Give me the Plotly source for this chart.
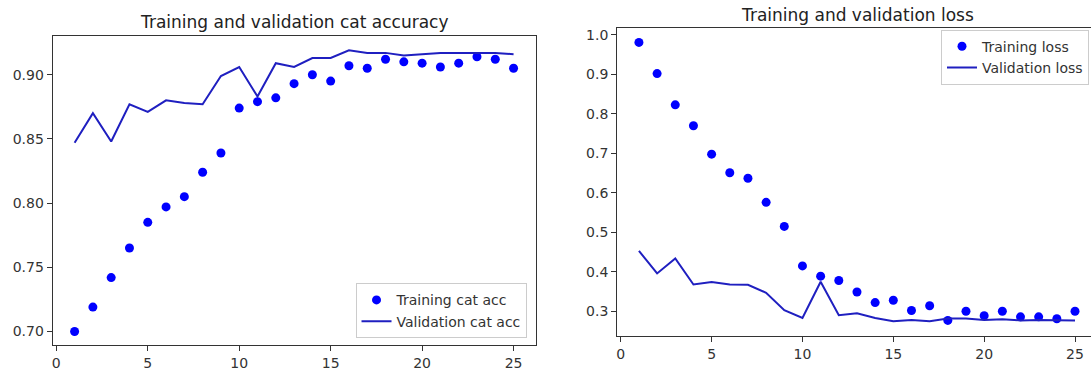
import plotly.graph_objects as go

epochs = list(range(1, 26))

train_acc = [0.700, 0.719, 0.742, 0.765, 0.785, 0.797, 0.805, 0.824, 0.839, 0.874,
             0.879, 0.882, 0.893, 0.900, 0.895, 0.907, 0.905, 0.912, 0.910, 0.909,
             0.906, 0.909, 0.914, 0.912, 0.905]
val_acc = [0.847, 0.870, 0.848, 0.877, 0.871, 0.880, 0.878, 0.877, 0.899, 0.906,
           0.883, 0.909, 0.906, 0.913, 0.913, 0.919, 0.917, 0.917, 0.915, 0.916,
           0.917, 0.917, 0.917, 0.917, 0.916]

train_loss = [0.981, 0.902, 0.823, 0.770, 0.698, 0.651, 0.637, 0.576, 0.515, 0.415,
              0.389, 0.378, 0.349, 0.322, 0.328, 0.302, 0.314, 0.277, 0.300, 0.289,
              0.300, 0.286, 0.286, 0.281, 0.300]
val_loss = [0.453, 0.396, 0.434, 0.368, 0.374, 0.368, 0.367, 0.347, 0.303, 0.283,
            0.375, 0.290, 0.295, 0.283, 0.275, 0.278, 0.275, 0.282, 0.282, 0.278,
            0.280, 0.277, 0.278, 0.278, 0.277]

x_ticks = [0, 5, 10, 15, 20, 25]
acc_ticks = [0.70, 0.75, 0.80, 0.85, 0.90]
loss_ticks = [0.3, 0.4, 0.5, 0.6, 0.7, 0.8, 0.9, 1.0]

W, H = 1091, 371
FONT = "DejaVu Sans"
DOT = "#0000ff"
LINE = "#1f1fc0"
AX = "#333333"

fig = go.Figure()
fig.add_trace(go.Scatter(x=epochs, y=train_acc, mode="markers", name="Training cat acc",
                         marker=dict(color=DOT, size=9), xaxis="x", yaxis="y", legend="legend"))
fig.add_trace(go.Scatter(x=epochs, y=val_acc, mode="lines", name="Validation cat acc",
                         line=dict(color=LINE, width=2), xaxis="x", yaxis="y", legend="legend"))
fig.add_trace(go.Scatter(x=epochs, y=train_loss, mode="markers", name="Training loss",
                         marker=dict(color=DOT, size=9), xaxis="x2", yaxis="y2", legend="legend2"))
fig.add_trace(go.Scatter(x=epochs, y=val_loss, mode="lines", name="Validation loss",
                         line=dict(color=LINE, width=2), xaxis="x2", yaxis="y2", legend="legend2"))

def px_x(p):
    return p / W

def px_y(p):
    return 1 - p / H

axis_common = dict(showgrid=False, zeroline=False, showline=True, linecolor=AX, linewidth=1,
                   ticks="outside", ticklen=5, tickcolor=AX, tickwidth=1,
                   tickfont=dict(family=FONT, size=14, color="#333333"))

fig.update_layout(
    width=W, height=H,
    margin=dict(l=0, r=0, t=0, b=0),
    paper_bgcolor="white", plot_bgcolor="white",
    showlegend=True,
    xaxis=dict(domain=[px_x(51.7), px_x(535)], range=[-0.2, 26.2], anchor="y",
               tickvals=x_ticks, mirror=True, **axis_common),
    yaxis=dict(domain=[px_y(346.7), px_y(34.3)], range=[0.6895, 0.9302], anchor="x",
               tickvals=acc_ticks, tickformat=".2f", mirror=True, **axis_common),
    xaxis2=dict(domain=[px_x(616.7), 1.0], range=[-0.2, 25.88], anchor="y2",
                tickvals=x_ticks, mirror=True, **axis_common),
    yaxis2=dict(domain=[px_y(337.7), px_y(26.7)], range=[0.2373, 1.0165], anchor="x2",
                tickvals=loss_ticks, tickformat=".1f", **axis_common),
    legend=dict(x=px_x(526), y=px_y(340), xanchor="right", yanchor="bottom",
                bgcolor="white", bordercolor="#cccccc", borderwidth=1,
                font=dict(family=FONT, size=14, color="#333333")),
    legend2=dict(x=px_x(1089), y=px_y(28), xanchor="right", yanchor="top",
                 bgcolor="white", bordercolor="#cccccc", borderwidth=1,
                 font=dict(family=FONT, size=14, color="#333333")),
    annotations=[
        dict(text="Training and validation cat accuracy", x=(51.7 + 535) / 2 / W, y=px_y(20.7),
             xref="paper", yref="paper", xanchor="center", yanchor="middle", showarrow=False,
             font=dict(family=FONT, size=17, color="#222222")),
        dict(text="Training and validation loss", x=(616.7 + 1096.9) / 2 / W, y=px_y(12.7),
             xref="paper", yref="paper", xanchor="center", yanchor="middle", showarrow=False,
             font=dict(family=FONT, size=17, color="#222222")),
    ],
)

fig.write_html("out.html")
